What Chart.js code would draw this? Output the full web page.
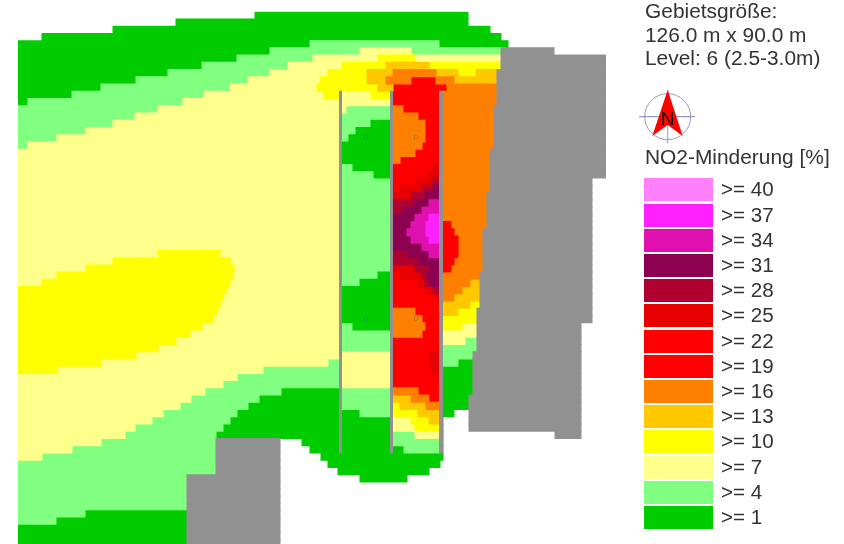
<!DOCTYPE html>
<html lang="de">
<head>
<meta charset="utf-8">
<title>NO2-Minderung</title>
<script src="https://cdn.jsdelivr.net/npm/chart.js@4"></script>
<style>
  html, body { margin: 0; padding: 0; background: #fff; width: 844px; height: 544px; overflow: hidden; }
  body { position: relative; font-family: "Liberation Sans", Arial, sans-serif; color: #333; }
  #map { position: absolute; left: 0; top: 0; }
  #map, #info, #legendTitle, #legend, #north { filter: blur(0.4px); }
  #info { position: absolute; left: 645px; top: 0; font-size: 20px; line-height: 23.6px; white-space: nowrap; transform: scaleX(1.045); transform-origin: left; }
  #legendTitle { position: absolute; left: 645px; top: 146px; font-size: 20px; line-height: 23px; white-space: nowrap; transform: scaleX(1.045); transform-origin: left; }
  #legend { position: absolute; left: 0; top: 0; }
  .swatch { position: absolute; left: 644px; width: 69px; height: 23px; }
  .swatchLabel { position: absolute; left: 721px; font-size: 20px; line-height: 23px; white-space: nowrap; transform: scaleX(1.03); transform-origin: left; }
  #north { position: absolute; left: 635px; top: 85px; }
</style>
</head>
<body>
<canvas id="map" width="844" height="547"></canvas>
<div id="info">Gebietsgröße:<br>126.0 m x 90.0 m<br>Level: 6 (2.5-3.0m)</div>
<svg id="north" width="65" height="62" viewBox="635 85 65 62">
  <circle cx="667.7" cy="116.7" r="23" fill="none" stroke="#9a9ab8" stroke-width="1"/>
  <line x1="639" y1="116.7" x2="695" y2="116.7" stroke="#7f7fc0" stroke-width="1"/>
  <line x1="667.7" y1="90" x2="667.7" y2="143" stroke="#9a9ab8" stroke-width="1"/>
  <polygon points="667.7,90 682.7,136 667.7,125 652.3,136" fill="#ff0000"/>
  <text x="667.5" y="124.5" font-size="19" text-anchor="middle" fill="#111" font-family="Liberation Sans, Arial, sans-serif">N</text>
</svg>
<div id="legendTitle">NO2-Minderung [%]</div>
<div id="legend"></div>
<script>
// Map grid: rows run top to bottom, x is in map columns.
// Every span is [firstRow, lastRow, fromColumn, toColumn]
const rowCount = 74
const columnCount = 294

const legendLabels = ['>= 40', '>= 37', '>= 34', '>= 31', '>= 28', '>= 25', '>= 22', '>= 19', '>= 16', '>= 13', '>= 10', '>= 7', '>= 4', '>= 1']
const legendColours = ['#ff80ff', '#ff20ff', '#e010b0', '#8c0050', '#b00030', '#e60000', '#ff0000', '#ff0000', '#ff8000', '#ffc800', '#ffff00', '#ffff8c', '#80ff80', '#00cc00']

// markers in the map, [column, row]
const zeroMarks = [[173.8, 17], [199, 17], [173.8, 42], [199, 42]]

const level1 = [
  [0,0,118.5,225], [1,1,79,225], [2,2,47.5,236], [3,3,12,241.5], [4,4,0,245], [5,54,0,243.5],
  [55,55,0,218], [56,58,0,212.5], [59,59,142,212.5], [60,60,146,212.5], [61,61,151.5,212.5],
  [62,62,155,211], [63,63,160,205.5], [64,64,171,194.5]
]
const level4 = [
  [4,4,146,210.5], [5,5,126,243.5], [6,6,109.5,243.5], [7,7,92,243.5], [8,8,75,243.5],
  [9,9,59,243.5], [10,10,41.5,243.5], [11,11,27,243.5], [12,12,5,243.5], [13,51,0,160.5],
  [52,52,0,131.5], [53,53,0,120.5], [54,54,0,115], [55,55,0,109.5], [56,56,0,106],
  [57,57,0,102.5], [58,63,0,99], [64,70,0,84.5],
  // second street
  [13,13,164,186], [14,46,162,186], [52,54,162,186], [55,55,171,186],
  // third street and east side
  [58,58,187.5,198.5], [59,59,187.5,210.5], [60,60,193,210.5],
  [45,45,223.5,243.5], [46,47,212.5,243.5], [48,48,212.5,220]
]
const level1Patches = [
  [69,69,34,84.5], [70,70,19.5,84.5], [71,73,0,84.5],
  [15,15,176.5,186], [16,16,169,186], [17,17,165.5,186], [18,20,162,186], [21,21,167.5,186], [22,22,178,186],
  [36,36,180,186], [37,37,171,186], [38,42,162,186], [43,43,167.5,186]
]
const level7 = [
  [5,5,171,196.5], [6,6,147.5,241.5], [7,7,135,241.5], [8,8,126,241.5], [9,9,115,241.5], [10,10,106,241.5],
  [11,11,93,186], [12,12,82.5,186], [13,13,70,164], [14,14,58.5,160.5], [15,15,47.5,160.5],
  [16,16,34,160.5], [17,17,19.5,160.5], [18,18,5,160.5], [19,47,0,160.5], [48,48,0,155],
  [49,49,0,122.5], [50,50,0,109.5], [51,51,0,102.5], [52,52,0,93.5], [53,53,0,86.5], [54,54,0,81],
  [55,55,0,72.5], [56,56,0,67], [57,57,0,58.5], [58,58,0,53.5], [59,59,0,41.5], [60,60,0,27], [61,61,0,12],
  [47,51,162,186], [56,56,187.5,196.5], [57,57,187.5,198.5], [58,58,198.5,210.5],
  [43,43,222,243.5], [44,44,212.5,243.5], [45,45,212.5,223.5]
]
const level19 = [
  [9,9,196.5,209], [10,10,187.5,214.5], [11,51,187.5,210.5], [52,52,200,210.5], [53,53,205.5,210.5]
]
const level10 = [
  [33,33,70,101], [34,34,47.5,106], [35,35,34,108], [36,36,19.5,107.5], [37,37,12,106], [38,38,0,104.5],
  [39,39,0,102.5], [40,40,0,101], [41,41,0,99.5], [42,42,0,97.5], [43,43,0,92], [44,44,0,86], [45,45,0,79],
  [46,46,0,70], [47,47,0,59], [48,48,0,41.5], [49,49,0,19.5],
  [6,6,180,198.5], [7,7,162,184], [7,7,205.5,241.5], [8,8,155,174.5], [8,8,220,229], [9,9,151,174.5],
  [10,10,149.5,180], [11,11,153,160.5], [11,11,176.5,186],
  [40,40,226,243.5], [41,41,220,243.5], [42,42,212.5,243.5], [43,43,212.5,222],
  [54,54,187.5,191], [55,55,187.5,200], [56,56,196.5,205.5], [57,57,198.5,210.5]
]
const level13 = [
  [7,7,184,205.5], [8,8,174.5,187.5], [8,8,209,220], [8,8,229,239.5], [9,9,174.5,184], [9,9,218,239.5], [10,10,180,187.5],
  [37,37,226,243.5], [38,38,222,243.5], [39,39,218,243.5], [40,40,212.5,226], [41,41,212.5,220],
  [53,53,187.5,196.5], [54,54,191,204], [55,55,200,210.5], [56,56,205.5,210.5]
]
const level16 = [
  [8,8,187.5,209], [9,9,184,196.5], [9,9,209,218], [10,10,214.5,239.5],
  [11,36,212.5,243.5], [37,37,212.5,226], [38,38,212.5,222], [39,39,212.5,218],
  [13,13,187.5,192.5], [14,14,187.5,200], [15,17,187.5,203.5], [18,18,187.5,202], [19,19,187.5,198.5], [20,20,187.5,191],
  [41,41,187.5,198.5], [42,42,187.5,202], [43,43,187.5,203.5], [44,44,187.5,202],
  [52,52,187.5,200], [53,53,196.5,205.5], [54,54,204,210.5]
]
const level19East = [
  [29,29,212.5,216.5], [30,30,212.5,218], [31,33,212.5,220], [34,34,212.5,218], [35,35,212.5,216.5]
]
const level25 = [
  [21,21,207.5,210.5], [22,22,204.5,210.5], [23,23,199.5,210.5], [24,24,191,210.5], [25,35,187.5,210.5],
  [36,36,191,210.5], [37,37,199.5,210.5], [38,38,203.5,210.5], [39,39,208.5,210.5],
  [47,48,206,210.5], [49,49,207,210.5]
]
const level28 = [
  [23,23,207.5,210.5], [24,24,202.5,210.5], [25,25,197,210.5], [26,34,187.5,210.5], [35,35,198.5,210.5],
  [36,36,202,210.5], [37,37,203.5,210.5], [38,38,207.5,210.5]
]
const level31 = [
  [24,24,207.5,210.5], [25,25,203.5,210.5], [26,26,198.5,210.5], [27,27,192.5,210.5], [28,32,187.5,210.5],
  [33,33,195,210.5], [34,34,200,210.5], [35,35,205.5,210.5], [36,36,204.5,210.5], [37,37,206,210.5]
]
const level34 = [
  [26,26,205.5,210.5], [27,27,202,210.5], [28,28,198.5,210.5], [29,29,196.5,210.5],
  [30,30,194.5,210.5], [31,31,196.5,210.5], [32,32,202,210.5], [33,33,205.5,210.5]
]
const level37 = [
  [28,28,205.5,210.5], [29,30,204,210.5], [31,31,205.5,210.5]
]
const buildings = [
  [5,5,241.5,268], [6,7,241.5,294], [8,12,239.5,294], [13,18,238,294], [19,22,236,294], [23,24,236,287],
  [25,29,234.5,287], [30,35,232.5,287], [36,40,231,287], [41,42,229.5,287], [43,46,229.5,281.5],
  [47,52,227.5,281.5], [53,57,225.5,281.5], [58,58,268.5,281.5], [59,63,99,131], [64,73,84.5,131]
]
const walls = [
  [11,60,160.75,161.75], [11,60,186.25,187.25], [11,60,210.75,212.25]
]

const GREY = '#919191'
const layers = [
  [level1, '#00cc00'], [level4, '#80ff80'], [level1Patches, '#00cc00'], [level7, '#ffff8c'], [level19, '#ff0000'],
  [level10, '#ffff00'], [level13, '#ffc800'], [level16, '#ff8000'], [level19East, '#ff0000'],
  [level25, '#e60000'], [level28, '#b00030'], [level31, '#8c0050'], [level34, '#e010b0'], [level37, '#ff20ff'],
  [buildings, GREY], [walls, GREY]
]

// one row can hold several spans, a bar dataset only one value per row
function spansToDatasets(spans, colour) {
  const rows = []
  spans.forEach(([first, last, from, to]) => {
    for (let r = first; r <= last; r++) {
      let row = rows.find(d => d[r] === null)
      if (!row) {
        row = new Array(rowCount).fill(null)
        rows.push(row)
      }
      row[r] = [from, to]
    }
  })
  return rows.map(data => ({ data: data, backgroundColor: colour }))
}

const datasets = []
layers.forEach(([spans, colour]) => {
  spansToDatasets(spans, colour).forEach(d => datasets.push(d))
})
// later layers have to end up on top
datasets.forEach((d, i) => { d.order = -i })

const rowLabels = []
for (let r = 0; r < rowCount; r++) rowLabels.push(String(r))

// the little 0 labels inside the blobs
const drawMarks = {
  id: 'drawMarks',
  afterDatasetsDraw(chart) {
    const { ctx, scales } = chart
    ctx.save()
    ctx.font = '8px "Liberation Sans", Arial, sans-serif'
    ctx.fillStyle = 'rgba(0, 110, 120, 0.5)'
    ctx.textAlign = 'center'
    ctx.textBaseline = 'middle'
    zeroMarks.forEach(([col, row]) => {
      ctx.fillText('0', scales.x.getPixelForValue(col), scales.y.getPixelForValue(row))
    })
    ctx.restore()
  }
}

new Chart(document.getElementById('map'), {
  type: 'bar',
  data: { labels: rowLabels, datasets: datasets },
  plugins: [drawMarks],
  options: {
    indexAxis: 'y',
    responsive: false,
    animation: false,
    events: [],
    layout: { padding: { left: 18, right: 238, top: 11.7, bottom: 0 } },
    datasets: { bar: { grouped: false, barPercentage: 1, categoryPercentage: 1, borderWidth: 0, inflateAmount: 0.5 } },
    scales: {
      x: { type: 'linear', min: 0, max: columnCount, display: false },
      y: { type: 'category', display: false }
    },
    plugins: { legend: { display: false }, tooltip: { enabled: false } }
  }
})

// legend on the right
const legend = document.getElementById('legend')
legendLabels.forEach((label, i) => {
  const top = 178.3 + i * 25.2
  const swatch = document.createElement('div')
  swatch.className = 'swatch'
  swatch.style.top = top + 'px'
  swatch.style.background = legendColours[i]
  legend.appendChild(swatch)
  const text = document.createElement('div')
  text.className = 'swatchLabel'
  text.style.top = top + 'px'
  text.textContent = label
  legend.appendChild(text)
})
</script>
</body>
</html>
